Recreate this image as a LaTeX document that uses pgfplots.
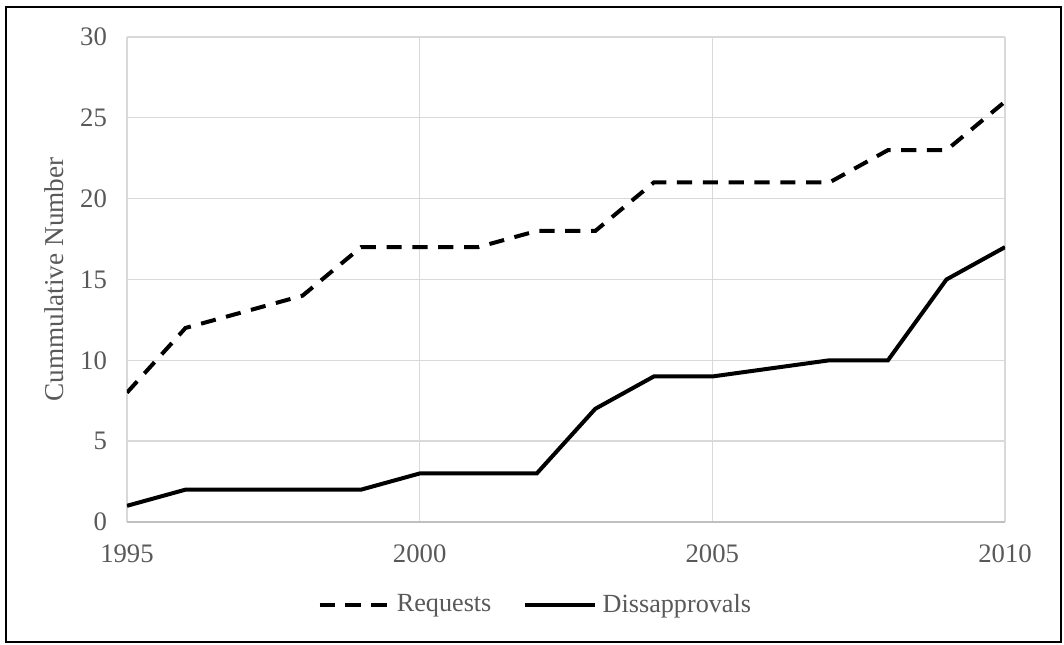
\documentclass[border=0pt]{standalone}
\usepackage{fontspec}
\setmainfont{Liberation Serif}
\usepackage{pgfplots}
\pgfplotsset{compat=1.18}
\definecolor{txt}{HTML}{595959}
\definecolor{grd}{HTML}{D9D9D9}
\definecolor{axl}{HTML}{BFBFBF}
\begin{document}
\begin{tikzpicture}
\begin{axis}[
  name=ax,
  scale only axis,
  width=11.553cm, height=6.382cm,
  xmin=1995, xmax=2010, ymin=0, ymax=30,
  xtick={1995,2000,2005,2010},
  ytick={0,5,10,15,20,25,30},
  xticklabel style={/pgf/number format/1000 sep={}},
  /pgf/number format/assume math mode=true,
  tick style={draw=none},
  axis line style={draw=none},
  grid=major,
  major grid style={grd, line width=0.5pt},
  tick label style={font=\fontsize{10}{12}\selectfont, text=txt},
  xticklabel style={yshift=-5pt},
  yticklabel style={xshift=-4pt},
  ylabel={Cummulative Number},
  every axis y label/.style={at={(axis description cs:-0.0831,0.5)}, rotate=90, anchor=center, font=\fontsize{10.2}{12}\selectfont, text=txt},
  legend style={at={(5.395cm,-1.092cm)}, anchor=center, draw=none, legend columns=2, font=\fontsize{9.8}{12}\selectfont, text=txt, /tikz/every even column/.append style={column sep=10pt}},
  legend cell align=left,
  legend image code/.code={\draw[#1] (0cm,0cm) -- (0.92cm,0cm);},
]
\addplot[black, line width=1.5pt, dash pattern=on 0.2cm off 0.14cm] coordinates {
(1995,8) (1996,12) (1997,13) (1998,14) (1999,17) (2000,17) (2001,17) (2002,18) (2003,18) (2004,21) (2005,21) (2006,21) (2007,21) (2008,23) (2009,23) (2010,26)};
\addlegendentry{Requests}
\addplot[black, line width=1.5pt] coordinates {
(1995,1) (1996,2) (1997,2) (1998,2) (1999,2) (2000,3) (2001,3) (2002,3) (2003,7) (2004,9) (2005,9) (2006,9.5) (2007,10) (2008,10) (2009,15) (2010,17)};
\addlegendentry{Dissapprovals}
\end{axis}
\draw[axl, line width=0.6pt] (ax.south west) -- (ax.south east);
\draw[black, line width=0.8pt] ([shift={(-1.592cm,-1.579cm)}]ax.south west) rectangle ([shift={(12.289cm,6.776cm)}]ax.south west);
\pgfresetboundingbox
\useasboundingbox ([shift={(-1.671cm,-1.618cm)}]ax.south west) rectangle ([shift={(12.329cm,6.868cm)}]ax.south west);
\end{tikzpicture}
\end{document}
